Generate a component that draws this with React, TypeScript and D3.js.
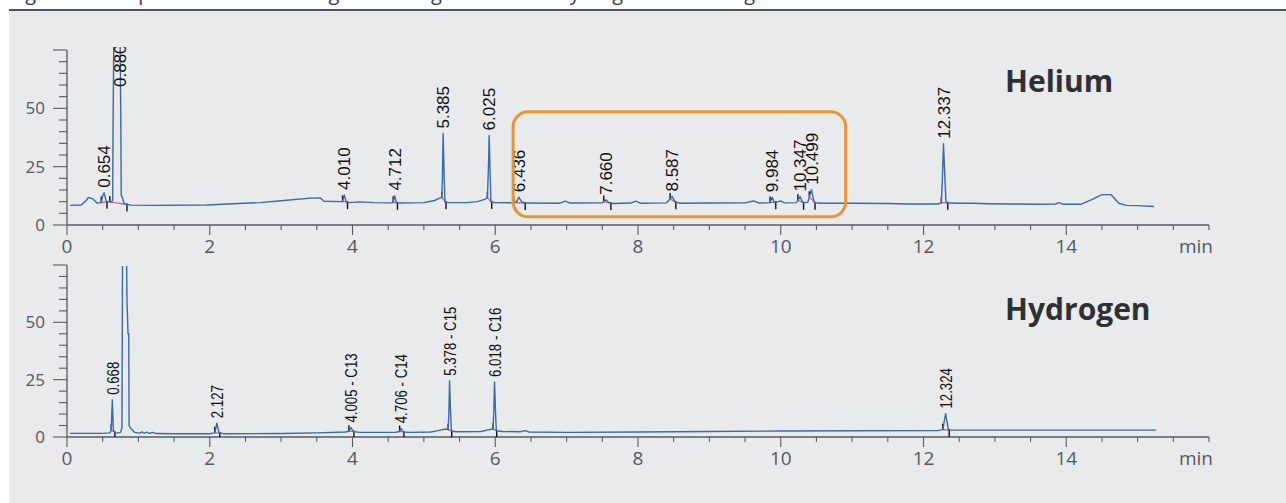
import React from 'react';
import * as d3 from 'd3';

type Pt = [number, number];
type Peak = { label: string; t: number; v: number; from: number; to: number };

// retention time (min) / signal
const heliumTrace: Pt[] = [
  [0.04, 8.4], [0.2, 8.6], [0.27, 10.5], [0.3, 11.8], [0.36, 11.2], [0.42, 9.4], [0.48, 9.6],
  [0.5, 12.5], [0.52, 13.8], [0.55, 10.0], [0.62, 9.8], [0.64, 10.5], [0.645, 40], [0.66, 95],
  [0.74, 95], [0.755, 40], [0.76, 12.6], [0.78, 11.5], [0.8, 9.0], [0.9, 8.5],
  [1.2, 8.4], [1.96, 8.6], [2.4, 9.2], [2.71, 9.6], [3.0, 10.4], [3.41, 11.5], [3.55, 11.6],
  [3.6, 10.2], [3.83, 10.0], [3.86, 10.1], [3.885, 12.9], [3.91, 10.0], [3.95, 9.6],
  [4.1, 9.9], [4.3, 9.6], [4.55, 9.5], [4.57, 9.7], [4.59, 12.6], [4.615, 9.6], [4.65, 9.4],
  [5.0, 9.6], [5.15, 10.5], [5.22, 11.5], [5.25, 11.8], [5.26, 20], [5.27, 39.2], [5.285, 20],
  [5.295, 9.8], [5.35, 9.6], [5.6, 9.6], [5.75, 10.0], [5.85, 11.0], [5.89, 11.6], [5.905, 25],
  [5.915, 38.4], [5.93, 20], [5.94, 9.9], [6.0, 9.6], [6.25, 9.5], [6.3, 10.0], [6.33, 11.9],
  [6.37, 10.0], [6.42, 9.4], [6.9, 9.3], [6.98, 10.2], [7.05, 9.4], [7.5, 9.5], [7.55, 10.8],
  [7.59, 9.6], [7.65, 9.2], [7.9, 9.4], [7.97, 10.2], [8.04, 9.3], [8.4, 9.5], [8.48, 12.2],
  [8.52, 9.8], [8.6, 9.3], [9.0, 9.4], [9.5, 9.5], [9.62, 10.3], [9.7, 9.4], [9.85, 9.6],
  [9.88, 11.9], [9.91, 9.6], [10.0, 10.3], [10.05, 9.5], [10.22, 9.6], [10.27, 12.2],
  [10.31, 9.5], [10.38, 9.8], [10.43, 15.1], [10.47, 9.6], [10.55, 9.3], [11.0, 9.3],
  [11.5, 9.2], [11.8, 9.0], [12.2, 9.0], [12.25, 9.5], [12.265, 20], [12.28, 34.8], [12.3, 20],
  [12.315, 9.8], [12.35, 9.4], [12.5, 9.3], [12.7, 9.3], [12.9, 9.1], [13.2, 9.0], [13.6, 8.9],
  [13.85, 9.0], [13.9, 9.6], [13.95, 8.9], [14.21, 8.9], [14.35, 10.8], [14.5, 13.0],
  [14.63, 13.0], [14.74, 9.2], [14.85, 8.4], [15.0, 8.3], [15.23, 7.9],
];

const hydrogenTrace: Pt[] = [
  [0.04, 1.6], [0.5, 1.6], [0.6, 1.8], [0.62, 3.0], [0.635, 16.2], [0.65, 3.0], [0.68, 1.6],
  [0.75, 2.0], [0.77, 4], [0.78, 95], [0.83, 95], [0.84, 60], [0.855, 45], [0.865, 45],
  [0.87, 5], [0.9, 3.5], [0.95, 2.0], [1.02, 1.7], [1.05, 2.2], [1.08, 1.7], [1.12, 2.1],
  [1.16, 1.6], [1.2, 2.0], [1.25, 1.5], [1.5, 1.4], [2.0, 1.4], [2.07, 1.8], [2.1, 6.0],
  [2.13, 1.8], [2.2, 1.4], [3.0, 1.5], [3.5, 1.8], [3.9, 2.2], [3.95, 2.5], [3.98, 4.1],
  [4.01, 2.4], [4.1, 2.0], [4.6, 2.0], [4.66, 2.4], [4.68, 3.8], [4.71, 2.2], [4.8, 2.0],
  [5.1, 2.2], [5.2, 2.8], [5.3, 3.5], [5.34, 3.2], [5.35, 10], [5.36, 24.5], [5.375, 10],
  [5.385, 2.6], [5.45, 2.3], [5.8, 2.4], [5.9, 3.1], [5.97, 3.5], [5.98, 12], [5.99, 24.0],
  [6.005, 10], [6.015, 2.7], [6.1, 2.4], [6.35, 2.3], [6.42, 2.8], [6.47, 2.2], [7.0, 2.0],
  [8.0, 2.2], [9.0, 2.4], [10.0, 2.6], [11.0, 2.7], [12.2, 2.8], [12.27, 3.2], [12.31, 10.2],
  [12.35, 3.0], [12.45, 3.0], [13.5, 3.0], [14.5, 3.0], [15.26, 3.0],
];

const heliumPeaks: Peak[] = [
  { label: '0.654', t: 0.52, v: 13.8, from: 0.48, to: 0.56 },
  { label: '0.880', t: 0.743, v: 57, from: 0.6, to: 0.84 },
  { label: '4.010', t: 3.885, v: 12.9, from: 3.86, to: 3.93 },
  { label: '4.712', t: 4.59, v: 12.6, from: 4.57, to: 4.63 },
  { label: '5.385', t: 5.27, v: 39.2, from: 5.25, to: 5.31 },
  { label: '6.025', t: 5.915, v: 38.4, from: 5.89, to: 5.95 },
  { label: '6.436', t: 6.33, v: 11.9, from: 6.26, to: 6.42 },
  { label: '7.660', t: 7.55, v: 10.8, from: 7.52, to: 7.62 },
  { label: '8.587', t: 8.48, v: 12.2, from: 8.45, to: 8.53 },
  { label: '9.984', t: 9.88, v: 11.9, from: 9.85, to: 9.93 },
  { label: '10.347', t: 10.27, v: 12.2, from: 10.24, to: 10.32 },
  { label: '10.499', t: 10.43, v: 15.1, from: 10.4, to: 10.48 },
  { label: '12.337', t: 12.28, v: 34.8, from: 12.25, to: 12.34 },
];

const hydrogenPeaks: Peak[] = [
  { label: '0.668', t: 0.64, v: 16.2, from: 0.62, to: 0.67 },
  { label: '2.127', t: 2.1, v: 6.0, from: 2.07, to: 2.14 },
  { label: '4.005 - C13', t: 3.98, v: 4.1, from: 3.95, to: 4.02 },
  { label: '4.706 - C14', t: 4.68, v: 3.8, from: 4.66, to: 4.72 },
  { label: '5.378 - C15', t: 5.36, v: 24.5, from: 5.34, to: 5.39 },
  { label: '6.018 - C16', t: 5.99, v: 24.0, from: 5.97, to: 6.02 },
  { label: '12.324', t: 12.31, v: 10.2, from: 12.27, to: 12.36 },
];

const xTickLabels = [0, 2, 4, 6, 8, 10, 12, 14];
const xMinor = d3.range(0, 16.01, 0.5);
const yTickLabels = [0, 25, 50];
const yMinor = d3.range(0, 76, 5);
// region highlighted in the helium run: [t0, t1] x [v0, v1]
const zoomBox = { t: [6.25, 10.91], v: [3.5, 48.5] };

const W = 1286;
const H = 503;
const axisColor = '#565b63';
const traceColor = '#3b6aa4';
const axisFont = '"Open Sans", "Noto Sans", sans-serif';
const peakFont = '"Liberation Sans", Arial, sans-serif';

const x = d3.scaleLinear().domain([0, 16]).range([67, 1209]);

function valueAt(trace: Pt[], t: number) {
  const i = d3.bisector((d: Pt) => d[0]).left(trace, t);
  if (i <= 0) return trace[0][1];
  if (i >= trace.length) return trace[trace.length - 1][1];
  const [t0, v0] = trace[i - 1];
  const [t1, v1] = trace[i];
  return v0 + ((v1 - v0) * (t - t0)) / (t1 - t0);
}

type PanelProps = {
  id: string;
  trace: Pt[];
  peaks: Peak[];
  yBase: number;
  yTop: number;
  clipTop: number;
  title: string;
  titleY: number;
  narrow?: boolean;
  box?: boolean;
};

function Panel({ id, trace, peaks, yBase, yTop, clipTop, title, titleY, narrow, box }: PanelProps) {
  const y = d3.scaleLinear().domain([0, 75]).range([yBase, yTop]);
  const line = d3.line<Pt>().x(d => x(d[0])).y(d => y(d[1]));

  return (
    <g>
      <defs>
        <clipPath id={`clip-${id}`}>
          <rect x={0} y={clipTop} width={W} height={yBase - clipTop} />
        </clipPath>
      </defs>

      {/* y axis */}
      <line x1={x(0)} x2={x(0)} y1={y(75)} y2={y(0)} stroke={axisColor} strokeWidth={1.3} />
      {yMinor.map(v => {
        const major = v % 25 === 0;
        return (
          <line key={`ym${v}`} x1={x(0) - (major ? 14 : 8)} x2={x(0)} y1={y(v)} y2={y(v)}
            stroke={axisColor} strokeWidth={1.1} />
        );
      })}
      {yTickLabels.map(v => (
        <text key={`yl${v}`} x={45} y={y(v)} dy="0.36em" textAnchor="end" fontFamily={axisFont}
          fontSize={17} fill="#55585e">{v}</text>
      ))}

      {/* x axis */}
      <line x1={x(0)} x2={x(16)} y1={yBase} y2={yBase} stroke={axisColor} strokeWidth={1.3} />
      {xMinor.map(t => {
        const major = t % 2 === 0 && t < 16;
        return (
          <line key={`xm${t}`} x1={x(t)} x2={x(t)} y1={yBase} y2={yBase + (major ? 10 : 5)}
            stroke={axisColor} strokeWidth={1.1} />
        );
      })}
      {xTickLabels.map(t => (
        <text key={`xl${t}`} x={x(t)} y={yBase + 28} textAnchor="middle" fontFamily={axisFont}
          fontSize={19} fill="#55585e">{t}</text>
      ))}
      <text x={x(16) + 4} y={yBase + 28} textAnchor="end" fontFamily={axisFont} fontSize={19}
        fill="#55585e">min</text>

      <g clipPath={`url(#clip-${id})`}>
        {/* integration baselines and markers */}
        {peaks.map(p => {
          const b0 = valueAt(trace, p.from);
          const b1 = valueAt(trace, p.to);
          return (
            <g key={`m${p.label}`}>
              <line x1={x(p.from)} x2={x(p.to)} y1={y(b0)} y2={y(b1)} stroke="#d2508c" strokeWidth={1.2} />
              <line x1={x(p.from)} x2={x(p.from)} y1={y(b0)} y2={y(b0) - 6} stroke="#111" strokeWidth={1.4} />
              <line x1={x(p.to)} x2={x(p.to)} y1={y(b1) - 1} y2={y(b1) + 7} stroke="#111" strokeWidth={1.4} />
            </g>
          );
        })}
        <path d={line(trace) ?? ''} fill="none" stroke={traceColor} strokeWidth={1.4}
          strokeLinejoin="round" />
        {peaks.map(p => (
          <text key={`pl${p.label}`}
            transform={`translate(${x(p.t)},${y(p.v) - 5}) rotate(-90)${narrow ? ' scale(0.78,1)' : ''}`}
            dy="0.36em" fontFamily={peakFont} fontSize={17} fill="#111">{p.label}</text>
        ))}
      </g>

      {box && (
        <rect x={x(zoomBox.t[0])} y={y(zoomBox.v[1])} width={x(zoomBox.t[1]) - x(zoomBox.t[0])}
          height={y(zoomBox.v[0]) - y(zoomBox.v[1])} rx={15} fill="none" stroke="#e8962f"
          strokeWidth={3} />
      )}

      <text x={1005} y={titleY} fontFamily={axisFont} fontWeight={700} fontSize={30}
        fill="#2e3033">{title}</text>
    </g>
  );
}

export default function App() {
  return (
    <svg width={W} height={H} style={{ position: 'absolute', left: 0, top: 0 }}>
      <rect width={W} height={H} fill="#ffffff" />
      <rect x={9} y={11} width={W - 9} height={H - 11} fill="#e9eaec" />
      <line x1={9} x2={W} y1={10} y2={10} stroke="#50545b" strokeWidth={2} />
      <text x={10} y={0} fontFamily={axisFont} fontSize={20} fill="#3a3d42">
        Figure 2. Comparison of chromatograms using helium and hydrogen as carrier gas
      </text>
      <Panel id="he" trace={heliumTrace} peaks={heliumPeaks} yBase={225} yTop={50} clipTop={47}
        title="Helium" titleY={92} box />
      <Panel id="h2" trace={hydrogenTrace} peaks={hydrogenPeaks} yBase={437} yTop={265} clipTop={266}
        title="Hydrogen" titleY={320} narrow />
    </svg>
  );
}
